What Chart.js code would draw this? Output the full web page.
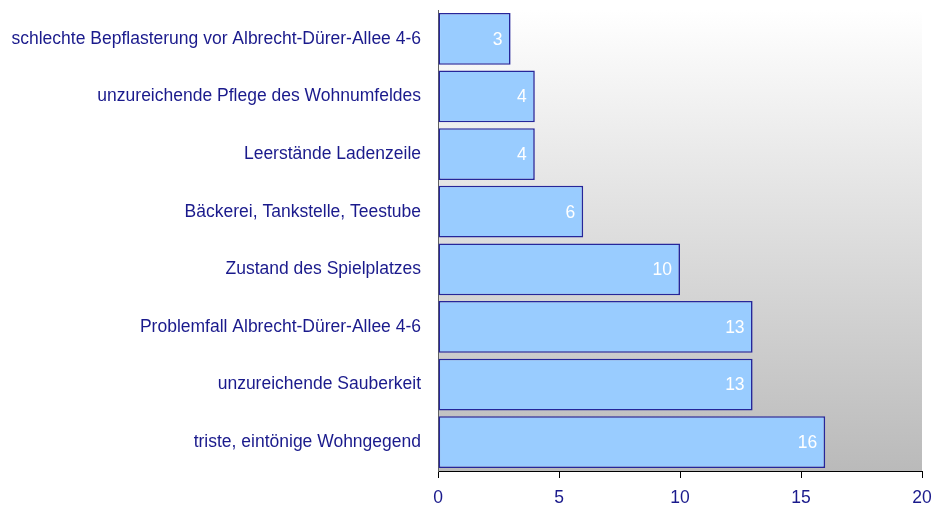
<!DOCTYPE html>
<html>
<head>
<meta charset="utf-8">
<script src="https://cdn.jsdelivr.net/npm/chart.js@4/dist/chart.umd.min.js"></script>
<style>
  body { margin: 0; background: #fff; }
  #wrap { width: 932px; height: 510px; }
</style>
</head>
<body>
<div id="wrap"><canvas id="chart"></canvas></div>
<script>
// Daten
const categories = [
  'schlechte Bepflasterung vor Albrecht-Dürer-Allee 4-6',
  'unzureichende Pflege des Wohnumfeldes',
  'Leerstände Ladenzeile',
  'Bäckerei, Tankstelle, Teestube',
  'Zustand des Spielplatzes',
  'Problemfall Albrecht-Dürer-Allee 4-6',
  'unzureichende Sauberkeit',
  'triste, eintönige Wohngegend'
];
const values = [3, 4, 4, 6, 10, 13, 13, 16];
const xTicks = [0, 5, 10, 15, 20];

const navy = '#1a1a8c';
const fontFamily = '"Liberation Sans", Arial, sans-serif';
const fontSize = 17.5;

// Hintergrund mit Verlauf im Diagrammbereich (oben weiss, unten grau)
const gradientBg = {
  id: 'gradientBg',
  beforeDraw(chart) {
    const { ctx, chartArea: a } = chart;
    const g = ctx.createLinearGradient(0, a.top, 0, a.bottom);
    g.addColorStop(0, '#ffffff');
    g.addColorStop(1, '#bababa');
    ctx.save();
    ctx.fillStyle = g;
    ctx.fillRect(a.left, a.top, a.right - a.left, a.bottom - a.top);
    ctx.restore();
  }
};

// Werte in den Balken
const valueLabels = {
  id: 'valueLabels',
  afterDatasetsDraw(chart) {
    const { ctx } = chart;
    const meta = chart.getDatasetMeta(0);
    ctx.save();
    ctx.fillStyle = '#ffffff';
    ctx.font = fontSize + 'px ' + fontFamily;
    ctx.textAlign = 'right';
    ctx.textBaseline = 'middle';
    meta.data.forEach((bar, i) => {
      ctx.fillText(String(values[i]), bar.x - 8, bar.y + 1);
    });
    ctx.restore();
  }
};

new Chart(document.getElementById('chart'), {
  type: 'bar',
  data: {
    labels: categories,
    datasets: [{
      data: values,
      backgroundColor: '#99ccff',
      borderColor: '#26269a',
      borderWidth: 1.6,
      borderSkipped: false,
      barPercentage: 0.9,
      categoryPercentage: 1
    }]
  },
  options: {
    indexAxis: 'y',
    responsive: true,
    maintainAspectRatio: false,
    animation: false,
    layout: { padding: { top: 10, right: 10, left: 0, bottom: 0 } },
    plugins: {
      legend: { display: false },
      tooltip: { enabled: false }
    },
    scales: {
      x: {
        min: 0,
        max: 20,
        afterBuildTicks(scale) {
          scale.ticks = xTicks.map(v => ({ value: v }));
        },
        grid: { drawOnChartArea: false, drawTicks: true, tickLength: 7, color: '#000000' },
        border: { display: true, color: '#000000', width: 1 },
        ticks: {
          color: navy,
          font: { family: fontFamily, size: fontSize },
          padding: 10
        },
        afterFit(scale) {
          scale.height = 39;
          scale.paddingLeft = 0;
          scale.paddingRight = 0;
        }
      },
      y: {
        grid: { display: false, drawTicks: false },
        border: { display: true, color: '#606060', width: 1 },
        ticks: {
          color: navy,
          font: { family: fontFamily, size: fontSize },
          padding: 17
        },
        afterFit(scale) {
          scale.width = 438;
          scale.paddingTop = 0;
          scale.paddingBottom = 0;
        }
      }
    }
  },
  plugins: [gradientBg, valueLabels]
});
</script>
</body>
</html>
